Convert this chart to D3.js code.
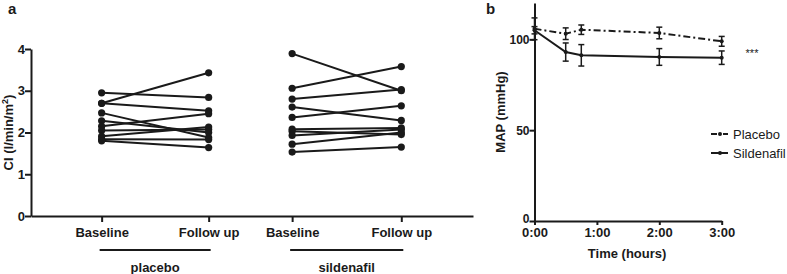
<!DOCTYPE html>
<html>
<head>
<meta charset="utf-8">
<script src="https://cdn.jsdelivr.net/npm/d3@7"></script>
<style>
  body { margin: 0; background: #fff; }
  svg { display: block; font-family: "Liberation Sans", Arial, sans-serif; }
</style>
</head>
<body>
<svg id="chart" width="787" height="274"></svg>
<script>
// ---- panel a data: CI per subject, baseline -> follow up ----
const groups = ['placebo', 'sildenafil'];
const visitLabels = ['Baseline', 'Follow up'];
const visitPos = [1, 2, 2.78, 3.8]; // placebo B, placebo F, sildenafil B, sildenafil F
const ciTicks = [0, 1, 2, 3, 4];

const placeboBase   = [2.95, 2.70, 2.70, 2.47, 2.28, 2.15, 2.05, 1.91, 1.84, 1.80];
const placeboFollow = [2.84, 3.43, 2.52, 1.88, 2.00, 2.45, 2.07, 2.13, 1.83, 1.64];
const sildBase      = [3.89, 3.06, 2.80, 2.61, 2.36, 2.08, 2.03, 1.93, 1.72, 1.53];
const sildFollow    = [3.00, 3.58, 3.03, 2.29, 2.64, 2.11, 1.95, 2.07, 2.00, 1.65];

// ---- panel b data: MAP over time ----
const hours = [0, 0.5, 0.75, 2, 3];
const timeTicks = [0, 1, 2, 3];
const mapTicks = [0, 50, 100];
const placeboMap = [105.8, 103.1, 105.3, 103.5, 98.9];
const placeboErr = [6.0, 3.2, 2.6, 3.2, 2.7];
const sildMap    = [105.0, 93.0, 91.2, 90.3, 89.9];
const sildErr    = [2.0, 5.0, 5.9, 4.6, 3.7];

const svg = d3.select('#chart');
const ink = '#1a1a1a';
const boldFont = g => g.selectAll('text')
  .style('font-size', '13px').style('font-weight', '700').style('fill', ink);
const axisStyle = g => {
  g.selectAll('.domain').attr('stroke', ink).attr('stroke-width', 2);
  g.selectAll('.tick line').attr('stroke', ink).attr('stroke-width', 2);
};

// ============================================================
// PANEL A
// ============================================================
const xA = d3.scaleLinear().domain([0.34, 4.47]).range([31, 473]);
const yA = d3.scaleLinear().domain([0, 4]).range([216, 49]);

svg.append('text').attr('x', 8).attr('y', 14)
  .style('font-size', '15px').style('font-weight', '700').style('fill', ink).text('a');

svg.append('g')
  .attr('transform', `translate(0,${yA(0)})`)
  .call(d3.axisBottom(xA).tickValues(visitPos).tickSizeInner(6).tickSizeOuter(0)
    .tickFormat((d, i) => visitLabels[i % 2]))
  .call(axisStyle)
  .call(boldFont)
  .call(g => g.selectAll('text').attr('dy', '0.95em'));

svg.append('g')
  .attr('transform', `translate(${xA(0.34)},0)`)
  .call(d3.axisLeft(yA).tickValues(ciTicks).tickSizeInner(6).tickSizeOuter(0).tickFormat(d3.format('d')))
  .call(axisStyle)
  .call(boldFont)
  .call(g => g.selectAll('text').attr('x', -6));

const yLabA = svg.append('text')
  .attr('transform', `translate(13,${(yA(0) + yA(4)) / 2}) rotate(-90)`)
  .attr('text-anchor', 'middle')
  .style('font-size', '13px').style('font-weight', '700').style('fill', ink);
yLabA.append('tspan').text('CI (l/min/m');
yLabA.append('tspan').attr('dy', -5).style('font-size', '9px').text('2');
yLabA.append('tspan').attr('dy', 5).text(')');

// group underline + label
groups.forEach((grp, gi) => {
  const x0 = xA(visitPos[gi * 2]) - 2, x1 = xA(visitPos[gi * 2 + 1]) + 2;
  svg.append('line').attr('x1', x0).attr('x2', x1).attr('y1', 250).attr('y2', 250)
    .attr('stroke', ink).attr('stroke-width', 2);
  svg.append('text').attr('x', (x0 + x1) / 2).attr('y', 272)
    .attr('text-anchor', 'middle')
    .style('font-size', '13px').style('font-weight', '700').style('fill', ink)
    .text(grp);
});

const pairs = [
  ...placeboBase.map((v, i) => ({ b: v, f: placeboFollow[i], xb: visitPos[0], xf: visitPos[1] })),
  ...sildBase.map((v, i) => ({ b: v, f: sildFollow[i], xb: visitPos[2], xf: visitPos[3] }))
];

const gA = svg.append('g');
gA.selectAll('.pair').data(pairs).join('line')
  .attr('class', 'pair')
  .attr('x1', d => xA(d.xb)).attr('y1', d => yA(d.b))
  .attr('x2', d => xA(d.xf)).attr('y2', d => yA(d.f))
  .attr('stroke', ink).attr('stroke-width', 2);
gA.selectAll('.dotb').data(pairs).join('circle')
  .attr('cx', d => xA(d.xb)).attr('cy', d => yA(d.b)).attr('r', 3.6).attr('fill', ink);
gA.selectAll('.dotf').data(pairs).join('circle')
  .attr('cx', d => xA(d.xf)).attr('cy', d => yA(d.f)).attr('r', 3.6).attr('fill', ink);

// ============================================================
// PANEL B
// ============================================================
const xB = d3.scaleLinear().domain([0, 3]).range([534.5, 721.7]);
const yB = d3.scaleLinear().domain([0, 120]).range([221, 3]);

svg.append('text').attr('x', 486).attr('y', 14)
  .style('font-size', '15px').style('font-weight', '700').style('fill', ink).text('b');

svg.append('g')
  .attr('transform', `translate(0,${yB(0)})`)
  .call(d3.axisBottom(xB).tickValues(timeTicks).tickSizeInner(4).tickSizeOuter(0)
    .tickFormat(d => d + ':00'))
  .call(axisStyle)
  .call(boldFont)
  .call(g => g.selectAll('text').attr('y', 6).attr('dy', '0.8em'));

svg.append('g')
  .attr('transform', `translate(${xB(0)},0)`)
  .call(d3.axisLeft(yB).tickValues(mapTicks).tickSizeInner(5).tickSizeOuter(0))
  .call(axisStyle)
  .call(boldFont)
  .call(g => g.selectAll('text').attr('x', -5).style('font-size', '12px'))
  .call(g => g.selectAll('.tick').filter(d => d === 0).select('text').attr('dy', '0.1em'));

svg.append('text')
  .attr('transform', `translate(505,${(yB(0) + yB(120)) / 2}) rotate(-90)`)
  .attr('text-anchor', 'middle')
  .style('font-size', '13px').style('font-weight', '700').style('fill', ink)
  .text('MAP (mmHg)');

svg.append('text').attr('x', (xB(0) + xB(3)) / 2 - 1).attr('y', 258)
  .attr('text-anchor', 'middle')
  .style('font-size', '13px').style('font-weight', '700').style('fill', ink)
  .text('Time (hours)');

const series = [
  { name: 'Placebo', vals: placeboMap, err: placeboErr, dash: '7,3,2,3' },
  { name: 'Sildenafil', vals: sildMap, err: sildErr, dash: null }
];

const lineB = d3.line().x(d => xB(d.t)).y(d => yB(d.v));
series.forEach(s => {
  const pts = hours.map((t, i) => ({ t, v: s.vals[i], e: s.err[i] }));
  const g = svg.append('g');
  g.append('path').datum(pts).attr('d', lineB)
    .attr('fill', 'none').attr('stroke', ink).attr('stroke-width', 2)
    .attr('stroke-dasharray', s.dash);
  g.selectAll('.eb').data(pts).join('line')
    .attr('x1', d => xB(d.t)).attr('x2', d => xB(d.t))
    .attr('y1', d => yB(d.v - d.e)).attr('y2', d => yB(d.v + d.e))
    .attr('stroke', ink).attr('stroke-width', 1.5);
  [1, -1].forEach(sign => {
    g.selectAll('.cap' + sign).data(pts).join('line')
      .attr('x1', d => xB(d.t) - 3).attr('x2', d => xB(d.t) + 3)
      .attr('y1', d => yB(d.v + sign * d.e)).attr('y2', d => yB(d.v + sign * d.e))
      .attr('stroke', ink).attr('stroke-width', 1.5);
  });
  g.selectAll('.pt').data(pts).join('circle')
    .attr('cx', d => xB(d.t)).attr('cy', d => yB(d.v)).attr('r', 2).attr('fill', ink);
});

svg.append('text').attr('x', 752).attr('y', 57).attr('text-anchor', 'middle')
  .style('font-size', '11px').style('fill', ink).text('***');

// ---- LEGEND ----
series.forEach((s, i) => {
  const y = 134 + i * 19;
  svg.append('line').attr('x1', 711).attr('x2', 728).attr('y1', y).attr('y2', y)
    .attr('stroke', ink).attr('stroke-width', 2).attr('stroke-dasharray', s.dash ? '6,2,2,2' : null);
  svg.append('circle').attr('cx', 720).attr('cy', y).attr('r', 2).attr('fill', ink);
  svg.append('text').attr('x', 733).attr('y', y).attr('dy', '0.35em')
    .style('font-size', '13px').style('fill', ink).text(s.name);
});
</script>
</body>
</html>
